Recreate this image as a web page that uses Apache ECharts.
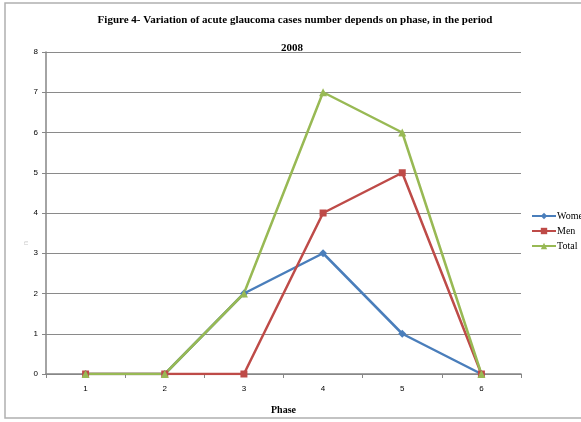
<!DOCTYPE html>
<html>
<head>
<meta charset="utf-8">
<style>
  html, body { margin: 0; padding: 0; background: #fff; }
  #chart { width: 581px; height: 422px; }
</style>
<script src="https://cdn.jsdelivr.net/npm/echarts@6/dist/echarts.min.js"></script>
</head>
<body>
<div id="chart"></div>
<script>
const phases = ['1', '2', '3', '4', '5', '6'];
const women = [0, 0, 2, 3, 1, 0];
const men = [0, 0, 0, 4, 5, 0];
const total = [0, 0, 2, 7, 6, 0];
const yTicks = [0, 1, 2, 3, 4, 5, 6, 7, 8];

const serif = '"Liberation Serif", "DejaVu Serif", serif';
const sans = '"Liberation Sans", Arial, sans-serif';

const chart = echarts.init(document.getElementById('chart'), null, { renderer: 'canvas' });

function lineSeries(name, data, color, symbol, size) {
  return {
    name: name,
    type: 'line',
    data: data,
    symbol: symbol,
    symbolSize: size,
    lineStyle: { color: color, width: 2.5 },
    itemStyle: { color: color },
    emphasis: { disabled: true },
    z: 3
  };
}

chart.setOption({
  animation: false,
  backgroundColor: '#fff',
  graphic: [{
    type: 'rect',
    shape: { x: 5, y: 3, width: 580, height: 415 },
    style: { fill: 'none', stroke: '#b0b0b0', lineWidth: 1.5 },
    silent: true
  }, {
    // faint axis caption to the left of the value axis
    type: 'text',
    x: 26, y: 243, rotation: Math.PI / 2,
    style: { text: 'n', fontFamily: sans, fontSize: 7, fill: '#c8c8c8', align: 'center', verticalAlign: 'middle' },
    silent: true
  }],
  title: [{
    text: 'Figure 4- Variation of acute glaucoma cases number depends on phase, in the period',
    left: 290, top: 10, textAlign: 'center',
    textStyle: { fontFamily: serif, fontWeight: 'bold', fontSize: 11, color: '#000' }
  }, {
    text: '2008',
    left: 287, top: 38, textAlign: 'center',
    textStyle: { fontFamily: serif, fontWeight: 'bold', fontSize: 11, color: '#000' }
  }],
  legend: {
    orient: 'vertical',
    left: 526, top: 206,
    itemWidth: 24, itemHeight: 8, itemGap: 5,
    textStyle: { fontFamily: serif, fontSize: 10, color: '#000', padding: [0, 0, 0, -4] },
    data: ['Women', 'Men', 'Total']
  },
  grid: { left: 46, right: 60, top: 52, bottom: 48, containLabel: false },
  xAxis: {
    type: 'category',
    data: phases,
    boundaryGap: true,
    name: 'Phase',
    nameLocation: 'middle',
    nameGap: 31,
    nameTextStyle: { fontFamily: serif, fontWeight: 'bold', fontSize: 10, color: '#000' },
    axisLine: { lineStyle: { color: '#868686', width: 1.5 } },
    axisTick: { show: true, alignWithLabel: false, length: 4, lineStyle: { color: '#868686' } },
    axisLabel: { fontFamily: sans, fontSize: 8, color: '#000', margin: 11 }
  },
  yAxis: {
    type: 'value',
    min: 0, max: 8, interval: 1,
    axisLine: { show: true, lineStyle: { color: '#868686', width: 1.5 } },
    axisTick: { show: true, length: 4, inside: false, lineStyle: { color: '#868686' } },
    axisLabel: {
      fontFamily: sans, fontSize: 8, color: '#000', margin: 8,
      formatter: function (v) { return yTicks.indexOf(v) >= 0 ? String(v) : ''; }
    },
    splitLine: { lineStyle: { color: '#8a8a8a', width: 1.2 } }
  },
  series: [
    lineSeries('Women', women, '#4a7ebb', 'diamond', 8),
    lineSeries('Men', men, '#be4b48', 'rect', 7),
    lineSeries('Total', total, '#98b954', 'triangle', 8)
  ]
});
</script>
</body>
</html>
